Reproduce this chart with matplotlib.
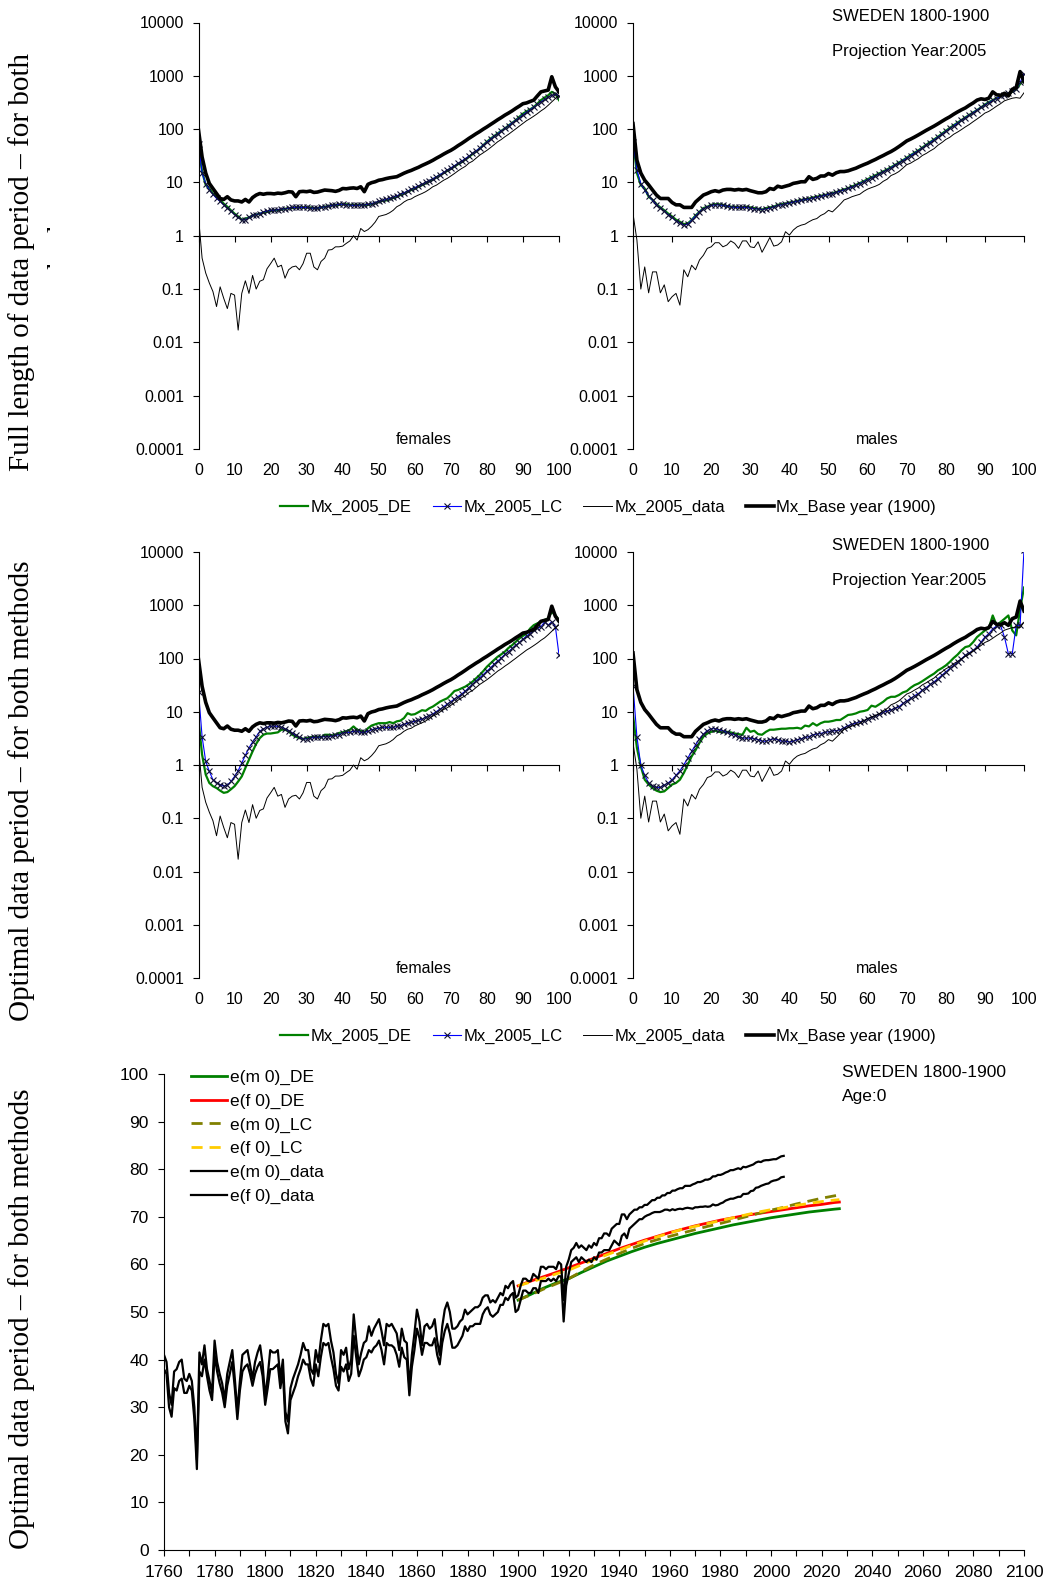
import numpy as np
import matplotlib
matplotlib.use("Agg")
import matplotlib.pyplot as plt
from matplotlib.ticker import NullLocator
from matplotlib.transforms import Bbox

plt.rcParams['font.family'] = ['Liberation Sans', 'DejaVu Sans']

W, H = 1045, 1588

# ---- age-specific mortality (per 1000), ages 0..100 ----
ages = np.arange(0, 101)

f_data = [2.27, 0.38, 0.2, 0.13, 0.09, 0.047, 0.11, 0.067, 0.043, 0.083,
          0.077, 0.017, 0.083, 0.143, 0.083, 0.18, 0.1, 0.14, 0.15, 0.24,
          0.3, 0.38, 0.26, 0.28, 0.16, 0.23, 0.26, 0.27, 0.23, 0.3,
          0.47, 0.47, 0.26, 0.23, 0.33, 0.38, 0.54, 0.55, 0.62, 0.62,
          0.64, 0.72, 0.8, 1.0, 0.83, 1.37, 1.2, 1.3, 1.5, 1.8,
          2.3, 2.4, 2.5, 2.7, 3.0, 3.5, 3.8, 4.3, 4.7, 4.9,
          5.4, 5.8, 6.2, 6.7, 7.4, 8.3, 8.9, 9.9, 11.0, 11.9,
          13.2, 14.7, 16.5, 18.3, 20.0, 23.0, 25.0, 28.5, 32.5, 36.0,
          40.0, 45.0, 51.0, 58.0, 64.0, 72.0, 80.0, 90.0, 101, 114,
          128, 144, 158, 175, 195, 220, 244, 280, 325, 375,
          430]
f_base = [96, 30, 15, 9.6, 7.7, 6.2, 5.0, 4.8, 5.4, 4.7,
          4.5, 4.5, 4.3, 4.8, 4.3, 5.2, 5.8, 6.2, 6.0, 6.2,
          6.2, 6.1, 6.3, 6.2, 6.4, 6.7, 6.6, 5.4, 6.7, 6.8,
          6.7, 6.9, 6.5, 6.6, 6.9, 7.2, 7.1, 7.0, 6.8, 7.1,
          7.7, 7.6, 7.8, 7.9, 7.7, 8.3, 6.7, 9.2, 9.9, 10.3,
          11.0, 11.3, 11.8, 12.2, 12.5, 12.8, 13.8, 14.9, 15.9, 16.8,
          18.0, 19.2, 20.8, 22.3, 24.0, 26.0, 28.5, 31.0, 34.0, 37.0,
          40.0, 44.0, 49.0, 54.0, 60.0, 67.0, 74.0, 82.0, 90.0, 100,
          110, 122, 135, 150, 165, 183, 200, 220, 245, 270,
          300, 310, 330, 350, 420, 500, 520, 540, 960, 620,
          500]
m_data = [2.6, 0.83, 0.1, 0.26, 0.085, 0.21, 0.21, 0.085, 0.12, 0.058,
          0.072, 0.083, 0.05, 0.23, 0.17, 0.28, 0.23, 0.35, 0.43, 0.58,
          0.62, 0.74, 0.74, 0.62, 0.67, 0.8, 0.72, 0.58, 0.8, 0.8,
          0.62, 0.6, 0.77, 0.49, 0.67, 0.93, 0.64, 0.67, 0.77, 1.19,
          1.03, 1.28, 1.47, 1.58, 1.65, 1.83, 2.0, 2.1, 2.4, 2.6,
          3.0, 2.8, 3.3, 3.9, 4.7, 5.0, 5.4, 5.7, 6.0, 6.8,
          7.5, 8.0, 8.5, 9.2, 10.5, 11.5, 13.5, 14.5, 16.0, 18.5,
          21.5, 23.0, 25.5, 28.0, 32.0, 35.0, 39.0, 43.0, 50.0, 56.0,
          64.0, 70.0, 80.0, 88.0, 98.0, 110, 122, 138, 155, 175,
          200, 215, 240, 270, 300, 340, 360, 380, 390, 380,
          480]
m_base = [127, 26, 15, 11, 9.0, 7.2, 5.8, 5.0, 5.0, 5.0,
          4.2, 3.8, 3.8, 3.4, 3.4, 3.4, 4.3, 5.0, 5.8, 6.2,
          6.7, 7.0, 6.7, 7.2, 7.4, 7.4, 7.2, 7.4, 7.2, 7.4,
          7.0, 6.7, 6.4, 6.4, 6.7, 7.7, 7.4, 8.5, 8.1, 8.5,
          8.9, 9.6, 9.9, 10.3, 10.3, 12.8, 11.4, 11.9, 13.2, 13.2,
          14.7, 13.7, 15.2, 16.0, 16.0, 16.5, 17.5, 18.5, 20.0, 21.5,
          23.0, 25.0, 27.0, 29.5, 32.0, 35.0, 38.0, 42.0, 47.0, 53.0,
          60.0, 65.0, 71.0, 78.0, 86.0, 95.0, 104, 114, 126, 140,
          155, 170, 190, 210, 230, 250, 280, 310, 350, 370,
          360, 380, 500, 440, 430, 470, 420, 560, 600, 1200,
          780]

# full data period fits
f_de_full = [47, 16, 9.0, 7.7, 6.2, 5.4, 4.7, 4.0, 3.5, 3.0,
             2.6, 2.3, 2.0, 2.1, 2.2, 2.4, 2.5, 2.6, 2.7, 2.8,
             2.9, 3.0, 3.0, 3.1, 3.2, 3.3, 3.3, 3.4, 3.4, 3.4,
             3.4, 3.4, 3.3, 3.3, 3.4, 3.5, 3.6, 3.7, 3.8, 3.8,
             3.9, 3.9, 3.8, 3.8, 3.8, 3.8, 3.8, 3.8, 3.9, 4.1,
             4.3, 4.5, 4.6, 4.8, 5.1, 5.4, 5.8, 6.2, 6.7, 7.2,
             7.7, 8.3, 8.9, 9.6, 10.5, 11.4, 12.5, 13.7, 15.0, 16.5,
             18.0, 20.0, 22.0, 24.0, 27.0, 30.0, 34.0, 38.0, 43.0, 50.0,
             58.0, 66.0, 74.0, 83.0, 93.0, 103, 117, 131, 147, 170,
             195, 215, 235, 260, 300, 350, 390, 430, 500, 460,
             350]
f_lc_full = [52, 15, 9.5, 7.3, 6.0, 5.0, 4.4, 3.8, 3.3, 2.9,
             2.5, 2.2, 2.0, 2.0, 2.2, 2.4, 2.5, 2.6, 2.8, 2.9,
             3.0, 3.0, 3.1, 3.2, 3.2, 3.3, 3.4, 3.4, 3.4, 3.4,
             3.4, 3.3, 3.3, 3.3, 3.4, 3.5, 3.6, 3.7, 3.8, 3.9,
             3.9, 3.8, 3.8, 3.7, 3.7, 3.8, 3.8, 3.9, 4.0, 4.2,
             4.4, 4.6, 4.8, 5.0, 5.3, 5.6, 6.0, 6.4, 6.9, 7.4,
             8.0, 8.6, 9.2, 10.0, 10.8, 11.7, 12.8, 14.0, 15.4, 17.0,
             18.7, 20.6, 22.7, 25.0, 28.0, 31.0, 35.0, 39.0, 44.0, 50.0,
             57.0, 65.0, 73.0, 82.0, 92.0, 103, 116, 130, 146, 165,
             185, 208, 232, 258, 290, 325, 360, 400, 430, 450,
             420]
m_de_full = [62, 15, 8.9, 7.7, 5.4, 4.7, 3.9, 3.4, 3.0, 2.6,
             2.3, 2.0, 1.83, 1.65, 1.7, 1.97, 2.4, 2.8, 3.3, 3.5,
             3.8, 3.9, 3.9, 3.8, 3.6, 3.5, 3.5, 3.4, 3.4, 3.5,
             3.4, 3.3, 3.2, 3.1, 3.3, 3.4, 3.5, 3.8, 3.9, 4.0,
             4.2, 4.3, 4.5, 4.7, 4.8, 5.0, 5.2, 5.4, 5.6, 5.8,
             6.0, 6.3, 6.6, 7.0, 7.4, 7.8, 8.4, 9.0, 9.7, 10.5,
             11.5, 12.5, 13.6, 14.8, 16.1, 17.5, 19.3, 21.3, 23.5, 26.0,
             29.0, 32.5, 36.0, 40.0, 45.0, 51.0, 57.0, 64.0, 72.0, 82.0,
             93.0, 105, 118, 132, 148, 166, 185, 205, 228, 255,
             290, 320, 350, 380, 410, 450, 470, 500, 560, 700,
             850]
m_lc_full = [58, 17, 9.5, 7.2, 5.6, 4.6, 3.8, 3.3, 2.9, 2.5,
             2.2, 1.9, 1.75, 1.6, 1.65, 1.95, 2.35, 2.8, 3.2, 3.5,
             3.7, 3.8, 3.8, 3.7, 3.6, 3.5, 3.4, 3.4, 3.4, 3.4,
             3.3, 3.2, 3.2, 3.1, 3.2, 3.3, 3.5, 3.7, 3.8, 4.0,
             4.1, 4.3, 4.4, 4.6, 4.8, 4.9, 5.1, 5.3, 5.5, 5.7,
             6.0, 6.2, 6.5, 6.9, 7.3, 7.7, 8.2, 8.8, 9.5, 10.3,
             11.2, 12.2, 13.3, 14.5, 15.8, 17.2, 19.0, 21.0, 23.2, 25.7,
             28.5, 32.0, 35.5, 39.5, 44.0, 50.0, 56.0, 63.0, 71.0, 80.0,
             91.0, 103, 116, 130, 146, 164, 183, 204, 227, 255,
             285, 315, 345, 375, 410, 440, 470, 510, 570, 750,
             1100]

# optimal data period fits
f_de_opt = [7.1, 1.56, 0.66, 0.46, 0.40, 0.37, 0.33, 0.30, 0.31, 0.35,
            0.40, 0.49, 0.61, 0.88, 1.26, 1.8, 2.5, 3.2, 3.7, 3.9,
            3.9, 4.0, 4.1, 4.6, 4.6, 4.3, 3.7, 3.4, 3.2, 3.1,
            3.2, 3.3, 3.4, 3.4, 3.3, 3.7, 3.7, 3.6, 3.7, 4.0,
            4.1, 4.3, 4.6, 5.3, 4.6, 4.4, 4.1, 4.9, 5.5, 5.8,
            6.1, 6.1, 6.1, 6.4, 6.1, 6.6, 6.8, 7.6, 9.4, 8.8,
            9.0, 9.8, 10.7, 10.4, 11.6, 12.5, 13.9, 15.5, 16.7, 17.9,
            20.7, 24.5, 25.7, 27.6, 29.6, 32.8, 36.7, 42.4, 49.0, 58.0,
            70.0, 81.0, 94.0, 108, 120, 135, 158, 178, 206, 238,
            266, 294, 366, 423, 457, 490, 530, 567, 753, 650,
            530]
f_lc_opt = [24, 3.4, 1.17, 0.76, 0.53, 0.46, 0.43, 0.40, 0.42, 0.49,
            0.61, 0.78, 1.09, 1.52, 2.1, 2.7, 3.4, 4.3, 4.8, 5.1,
            5.3, 5.4, 5.3, 5.1, 4.8, 4.4, 4.0, 3.6, 3.3, 3.1,
            3.1, 3.2, 3.3, 3.3, 3.4, 3.4, 3.4, 3.5, 3.6, 3.7,
            4.0, 4.1, 4.1, 4.3, 4.3, 4.1, 4.1, 4.3, 4.6, 4.8,
            4.9, 5.1, 5.1, 5.1, 5.1, 5.3, 5.5, 5.8, 6.1, 6.4,
            6.6, 6.9, 7.3, 7.8, 8.5, 9.1, 10.1, 11.2, 12.4, 13.9,
            15.5, 17.4, 19.3, 21.6, 24.5, 28.4, 32.8, 38.0, 43.6, 50.0,
            58.0, 67.0, 78.0, 90.0, 103, 120, 135, 155, 178, 200,
            230, 266, 294, 340, 366, 394, 490, 423, 490, 394,
            117]
m_de_opt = [8.7, 2.1, 0.94, 0.53, 0.43, 0.37, 0.33, 0.31, 0.32, 0.37,
            0.43, 0.46, 0.53, 0.71, 1.01, 1.45, 1.9, 2.6, 3.4, 3.9,
            4.2, 4.4, 4.2, 4.1, 4.2, 4.1, 3.9, 3.8, 3.7, 5.0,
            4.2, 4.4, 3.8, 3.7, 4.2, 4.6, 4.6, 4.7, 4.8, 4.8,
            4.9, 4.9, 5.0, 4.8, 5.5, 5.3, 6.1, 5.5, 6.1, 6.5,
            6.5, 6.7, 7.0, 7.0, 7.8, 8.7, 8.9, 9.3, 10.0, 10.3,
            10.8, 13.0, 12.4, 13.8, 15.4, 17.8, 19.1, 19.1, 20.6, 23.0,
            24.4, 28.2, 31.6, 33.9, 37.5, 42.0, 47.0, 52.0, 60.0, 66.0,
            74.0, 86.0, 102, 118, 142, 164, 171, 203, 253, 292,
            336, 372, 643, 418, 482, 555, 643, 336, 272, 850,
            2150]
m_lc_opt = [31, 3.4, 0.98, 0.64, 0.46, 0.40, 0.38, 0.38, 0.42, 0.46,
            0.53, 0.64, 0.78, 1.01, 1.35, 1.8, 2.4, 3.1, 3.8, 4.4,
            4.8, 4.8, 4.6, 4.4, 4.1, 3.9, 3.7, 3.4, 3.2, 3.2,
            3.2, 3.1, 3.0, 2.8, 2.8, 3.0, 3.1, 3.0, 2.8, 2.8,
            2.7, 2.8, 3.0, 3.1, 3.3, 3.4, 3.7, 3.8, 3.9, 4.1,
            4.2, 4.4, 4.4, 4.6, 5.0, 5.5, 5.8, 6.1, 6.5, 6.7,
            7.3, 7.8, 8.4, 8.9, 9.8, 10.3, 10.8, 11.6, 12.4, 14.3,
            15.9, 17.8, 20.0, 22.0, 25.5, 28.5, 32.5, 36.5, 42.0, 48.5,
            56.0, 65.0, 74.0, 86.0, 99.0, 115, 128, 142, 164, 203,
            253, 292, 362, 406, 418, 253, 123, 123, 418, 418,
            11000]

# ---- life expectancy at birth ----
years = np.arange(1760, 2006)
e0_f = [41.0, 39.5, 33.0, 30.5, 37.5, 38.0, 39.5, 40.0, 36.0, 35.5,
        37.0, 35.5, 30.0, 19.0, 41.5, 39.0, 43.0, 38.0, 35.5, 33.0,
        44.0, 39.5, 37.0, 35.0, 31.5, 37.0, 39.5, 42.0, 36.0, 29.0,
        35.5, 41.0, 41.5, 42.0, 39.0, 36.0, 39.5, 41.5, 43.0, 39.0,
        32.0, 36.5, 42.0, 41.5, 41.5, 42.0, 36.0, 40.0, 29.0, 27.0,
        34.0, 36.0, 37.5, 39.0, 41.0, 43.5, 42.0, 42.0, 38.0, 37.0,
        42.0, 39.5, 44.0, 47.5, 47.0, 47.5, 44.0, 41.5, 37.0, 35.0,
        42.0, 41.0, 42.5, 38.0, 40.0, 49.5, 44.0, 39.0, 41.5, 43.5,
        44.0, 47.0, 45.0, 46.5, 47.5, 48.5, 46.0, 43.0, 47.5, 47.0,
        47.5, 46.5, 45.5, 42.0, 46.5, 44.0, 43.5, 34.0, 41.0, 45.5,
        50.5, 48.0, 43.0, 47.0, 47.5, 46.5, 47.0, 48.5, 44.0, 41.0,
        47.0, 50.5, 52.0, 50.0, 46.5, 46.5, 47.0, 48.0, 48.5, 50.5,
        49.5, 50.0, 50.5, 51.0, 51.0, 51.5, 53.0, 53.5, 53.5, 52.0,
        52.5, 52.0, 53.0, 54.0, 53.5, 55.5, 55.0, 56.0, 56.5, 53.0,
        53.5, 55.5, 57.0, 57.0, 56.5, 56.5, 58.0, 57.5, 57.0, 59.5,
        59.5, 59.0, 59.5, 59.5, 59.5, 59.0, 60.5, 60.0, 52.5, 59.5,
        61.0, 63.0, 63.5, 64.5, 63.5, 64.0, 63.5, 63.0, 64.0, 63.5,
        64.5, 64.0, 65.5, 65.5, 66.5, 66.5, 66.0, 67.5, 68.0, 68.5,
        68.5, 70.5, 70.5, 69.5, 70.5, 71.0, 71.5, 71.5, 72.0, 72.0,
        72.5, 72.5, 73.0, 73.5, 73.5, 74.0, 74.0, 74.5, 74.5, 75.0,
        75.0, 75.5, 75.5, 75.8, 76.0, 76.0, 76.5, 76.5, 76.5, 76.8,
        77.0, 77.3, 77.3, 77.5, 77.8, 77.8, 78.0, 78.5, 78.5, 78.8,
        78.8, 79.0, 79.3, 79.5, 79.8, 79.8, 80.0, 80.2, 80.0, 80.5,
        80.4, 80.6, 80.8, 81.0, 81.4, 81.6, 81.5, 81.8, 81.9, 81.9,
        82.0, 82.1, 82.1, 82.4, 82.7, 82.8]
e0_m = [38.0, 37.0, 30.0, 28.0, 34.0, 33.5, 35.5, 36.0, 33.0, 33.0,
        34.5, 33.5, 27.5, 17.0, 37.5, 36.5, 40.0, 36.5, 33.5, 31.5,
        41.0, 37.5, 35.0, 33.0, 30.0, 34.5, 37.0, 39.5, 34.0, 27.5,
        33.5, 37.5, 38.5, 39.0, 37.0, 34.5, 37.0, 38.5, 39.5, 36.5,
        30.5, 34.0, 38.0, 38.0, 38.5, 39.0, 34.0, 37.5, 27.0, 24.5,
        31.5, 33.0, 34.5, 36.5, 38.0, 40.0, 39.0, 39.0, 36.0, 34.5,
        39.0, 36.5, 40.5, 43.5, 43.0, 43.5, 40.5, 38.0, 34.5, 33.5,
        38.5, 37.5, 39.0, 35.5, 37.0, 45.0, 40.5, 36.5, 38.0, 40.0,
        40.5, 42.0, 41.5, 42.5, 43.0, 44.0, 42.0, 39.0, 43.5, 43.0,
        43.0, 42.5, 41.0, 38.5, 42.5, 40.5, 40.0, 32.5, 38.5, 42.0,
        46.5, 44.5, 41.0, 43.5, 43.5, 43.0, 43.0, 44.5, 41.0, 39.0,
        43.5, 46.0, 47.5, 45.5, 42.5, 42.5, 43.0, 44.0, 45.0, 47.0,
        46.0, 47.0, 47.0, 47.5, 47.5, 47.5, 49.5, 50.5, 51.0, 49.5,
        49.0, 49.5, 50.0, 51.5, 51.5, 53.0, 52.5, 53.5, 54.0, 50.0,
        50.5, 52.5, 54.5, 54.5, 54.0, 54.0, 55.0, 55.0, 54.0, 56.5,
        56.5, 56.5, 57.0, 56.5, 57.0, 56.5, 57.5, 57.5, 48.0, 55.5,
        58.0, 60.5, 61.0, 61.5, 60.5, 61.5, 61.0, 60.5, 61.0, 60.5,
        61.5, 61.0, 62.5, 62.5, 63.0, 63.0, 63.0, 64.0, 65.0, 64.5,
        64.0, 66.0, 66.5, 65.5, 67.5, 68.0, 68.5, 69.0, 69.5, 69.5,
        70.0, 70.3, 70.5, 70.8, 71.0, 71.0, 71.0, 71.2, 71.5, 71.5,
        71.3, 71.6, 71.4, 71.6, 71.7, 71.6, 71.8, 71.9, 71.8, 71.7,
        72.0, 72.0, 72.1, 72.1, 72.2, 72.1, 72.2, 72.6, 72.4, 72.5,
        72.8, 73.0, 73.4, 73.6, 73.8, 73.8, 74.0, 74.2, 74.2, 74.8,
        74.8, 74.9, 75.4, 75.5, 76.1, 76.2, 76.5, 76.7, 76.9, 77.0,
        77.4, 77.6, 77.7, 77.9, 78.3, 78.4]

proj_years = [1900, 1905, 1910, 1915, 1920, 1925, 1930, 1935, 1940, 1945,
              1950, 1955, 1960, 1965, 1970, 1975, 1980, 1985, 1990, 1995,
              2000, 2005, 2010, 2015, 2020, 2025, 2027]
e0_m_de = [52.5, 53.7, 55.0, 56.1, 57.0, 58.3, 59.5, 60.7, 61.7, 62.7,
           63.6, 64.4, 65.1, 65.8, 66.5, 67.1, 67.7, 68.3, 68.8, 69.3,
           69.8, 70.2, 70.6, 71.0, 71.3, 71.6, 71.7]
e0_f_de = [55.5, 56.5, 57.4, 58.3, 59.3, 60.3, 61.3, 62.3, 63.3, 64.2,
           65.1, 65.9, 66.7, 67.4, 68.1, 68.7, 69.3, 69.8, 70.3, 70.7,
           71.1, 71.5, 71.9, 72.3, 72.6, 73.0, 73.1]
e0_m_lc = [52.5, 53.6, 54.8, 55.9, 57.0, 58.5, 59.9, 61.1, 62.3, 63.4,
           64.4, 65.2, 65.9, 66.6, 67.3, 68.0, 68.6, 69.3, 70.0, 70.7,
           71.4, 72.0, 72.7, 73.3, 73.9, 74.4, 74.6]
e0_f_lc = [55.5, 56.3, 57.1, 58.0, 58.8, 59.9, 61.0, 62.0, 63.0, 64.0,
           64.9, 65.8, 66.6, 67.4, 68.0, 68.6, 69.2, 69.8, 70.4, 71.0,
           71.5, 71.9, 72.4, 72.8, 73.2, 73.5, 73.6]

YTICKS = [1e-4, 1e-3, 1e-2, 1e-1, 1, 10, 100, 1000, 10000]
YLABELS = ['0.0001', '0.001', '0.01', '0.1', '1', '10', '100', '1000', '10000']


def px_axes(fig, x0, x1, ytop, ybot):
    return fig.add_axes([x0 / W, 1 - ybot / H, (x1 - x0) / W, (ybot - ytop) / H])


def mx_panel(ax, de, lc, data, base, sex, note):
    ax.plot(ages, de, color='#008000', lw=1.6, label='Mx_2005_DE')
    ax.plot(ages, lc, color='#0000ff', lw=0.8, marker='x', ms=4, mew=0.8,
            mec='#101030', label='Mx_2005_LC')
    ax.plot(ages, data, color='black', lw=0.7, label='Mx_2005_data')
    ax.plot(ages, base, color='black', lw=2.6, label='Mx_Base year (1900)')
    ax.set_yscale('log')
    ax.set_ylim(1e-4, 1e4)
    ax.set_xlim(0, 100)
    ax.spines[['top', 'right']].set_visible(False)
    ax.spines['bottom'].set_position(('axes', 0.5))
    ax.set_yticks(YTICKS)
    ax.set_yticklabels(YLABELS)
    ax.yaxis.set_minor_locator(NullLocator())
    ax.tick_params(axis='y', direction='out', length=4, labelsize=11.5, pad=6.5)
    ax.set_xticks(range(0, 101, 10))
    ax.tick_params(axis='x', direction='out', length=4, labelbottom=False)
    sec = ax.secondary_xaxis('bottom')
    sec.set_xticks(range(0, 101, 10))
    sec.tick_params(length=0, labelsize=11.5, pad=10)
    sec.spines['bottom'].set_visible(False)
    ax.text(0.625, 0.022, sex, transform=ax.transAxes, ha='center', va='center', fontsize=11.5)
    if note:
        ax.text(0.509, 1.015, 'SWEDEN 1800-1900', transform=ax.transAxes, ha='left',
                va='center', fontsize=12)
        ax.text(0.509, 0.933, 'Projection Year:2005', transform=ax.transAxes, ha='left',
                va='center', fontsize=12)


fig = plt.figure(figsize=(W / 100, H / 100), dpi=100)

rows = [(22.5, 449.0, f_de_full, f_lc_full, m_de_full, m_lc_full, 507),
        (552.0, 978.0, f_de_opt, f_lc_opt, m_de_opt, m_lc_opt, 1036)]
for ytop, ybot, fde, flc, mde, mlc, ly in rows:
    axf = px_axes(fig, 198.5, 559, ytop, ybot)
    mx_panel(axf, fde, flc, f_data, f_base, 'females', False)
    axm = px_axes(fig, 633, 1024, ytop, ybot)
    mx_panel(axm, mde, mlc, m_data, m_base, 'males', True)
    h, l = axf.get_legend_handles_labels()
    fig.legend(h, l, loc='center', bbox_to_anchor=(608 / W, 1 - ly / H), ncol=4,
               frameon=False, fontsize=12, handlelength=1.7, handletextpad=0.15,
               columnspacing=1.25)

# ---- life expectancy panel ----
ax = px_axes(fig, 164, 1024, 1074, 1550)
ax.plot(proj_years, e0_m_de, color='#008000', lw=2.0, label='e(m 0)_DE')
ax.plot(proj_years, e0_f_de, color='#ff0000', lw=2.0, label='e(f 0)_DE')
ax.plot(proj_years, e0_m_lc, color='#808000', lw=2.0, ls=(0, (4, 2.5)), label='e(m 0)_LC')
ax.plot(proj_years, e0_f_lc, color='#ffcc00', lw=2.0, ls=(0, (4, 2.5)), label='e(f 0)_LC')
ax.plot(years, e0_m, color='black', lw=1.6, label='e(m 0)_data')
ax.plot(years, e0_f, color='black', lw=1.6, label='e(f 0)_data')
ax.set_xlim(1760, 2100)
ax.set_ylim(0, 100)
ax.spines[['top', 'right']].set_visible(False)
ax.set_xticks(range(1760, 2101, 10))
ax.set_xticklabels([str(y) if (y - 1760) % 20 == 0 else '' for y in range(1760, 2101, 10)])
ax.set_yticks(range(0, 101, 10))
ax.tick_params(direction='out', length=4, labelsize=12.5, pad=7)
ax.legend(loc='upper left', bbox_to_anchor=(0.031, 1.009), frameon=False, fontsize=12.5,
          handlelength=2.1, handletextpad=0.15, labelspacing=0.49, borderpad=0, borderaxespad=0)
ax.text(0.788, 1.004, 'SWEDEN 1800-1900', transform=ax.transAxes, ha='left', va='center', fontsize=12.5)
ax.text(0.788, 0.952, 'Age:0', transform=ax.transAxes, ha='left', va='center', fontsize=12.5)

# ---- side captions ----
serif = ['Liberation Serif', 'DejaVu Serif']
fig.text(22 / W, 1 - 262 / H, 'Full length of data period \u2013 for both', rotation=90,
         ha='center', va='center', fontsize=21, family=serif)
cut = fig.text(60 / W, 1 - 262 / H, 'methods', rotation=90,
               ha='center', va='center', fontsize=21, family=serif)
cut.set_clip_box(Bbox.from_extents(0, 0, 49.5, H))
cut.set_clip_on(True)
fig.text(22 / W, 1 - 791 / H, 'Optimal data period \u2013 for both methods', rotation=90,
         ha='center', va='center', fontsize=21, family=serif)
fig.text(22 / W, 1 - 1319 / H, 'Optimal data period \u2013 for both methods', rotation=90,
         ha='center', va='center', fontsize=21, family=serif)

fig.savefig('out.png', dpi=100)
